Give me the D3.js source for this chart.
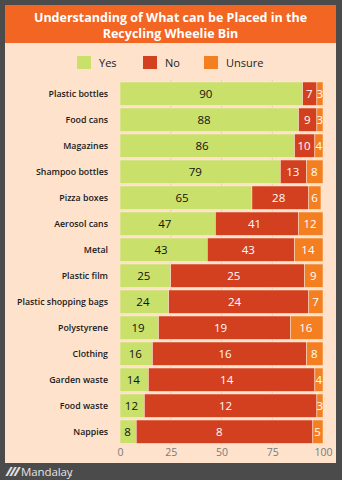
<!DOCTYPE html>
<html><head><meta charset="utf-8">
<script src="https://cdn.jsdelivr.net/npm/d3@7"></script>
<style>
html,body{margin:0;padding:0;background:#4b4b4b;}
svg{display:block;font-family:"Open Sans","Noto Sans",sans-serif;}
</style></head><body>
<svg id="chart" width="342" height="480"></svg>
<script>
// Survey: which items people believe go in the recycling wheelie bin (%)
const categories = ["Plastic bottles","Food cans","Magazines","Shampoo bottles","Pizza boxes","Aerosol cans","Metal","Plastic film","Plastic shopping bags","Polystyrene","Clothing","Garden waste","Food waste","Nappies"];
const yesValues    = [90, 88, 86, 79, 65, 47, 43, 25, 24, 19, 16, 14, 12, 8];
const noValues     = [7, 9, 10, 13, 28, 41, 43, 66, 69, 65, 76, 82, 85, 87];
const unsureValues = [3, 3, 4, 8, 6, 12, 14, 9, 7, 16, 8, 4, 3, 5];
// figures printed inside the "No" segments
const noLabels     = [7, 9, 10, 13, 28, 41, 43, 25, 24, 19, 16, 14, 12, 8];
const seriesNames  = ["Yes", "No", "Unsure"];
const seriesColors = ["#c9e06b", "#d2401f", "#f47f21"];
const xTicks       = [0, 25, 50, 75, 100];
const titleLines   = ["Understanding of What can be Placed in the", "Recycling Wheelie Bin"];

const W = 342, H = 480;
const svg = d3.select("#chart");

svg.append("rect").attr("width", W).attr("height", H).attr("fill", "#4b4b4b");
svg.append("rect").attr("x", 5).attr("y", 5).attr("width", 331).attr("height", 458).attr("fill", "#fee2cb");
svg.append("rect").attr("x", 5).attr("y", 5).attr("width", 331).attr("height", 38).attr("fill", "#f26522");

svg.append("g").selectAll("text").data(titleLines).join("text")
  .attr("x", 170.5).attr("y", (d, i) => 21.5 + i * 16)
  .attr("text-anchor", "middle").attr("fill", "#fff")
  .attr("font-size", 12.5).attr("font-weight", 700)
  .text(d => d);

// legend
const legendX = [77, 143, 204];
const legend = svg.append("g").selectAll("g").data(seriesNames).join("g")
  .attr("transform", (d, i) => `translate(${legendX[i]},56)`);
legend.append("rect").attr("width", 14).attr("height", 13).attr("fill", (d, i) => seriesColors[i]);
legend.append("text").attr("x", 22).attr("y", 10.5).attr("font-size", 11).attr("fill", "#222").text(d => d);

// scales
const x = d3.scaleLinear().domain([0, 100]).range([120, 323]);
const y = d3.scaleBand().domain(categories).range([80.7, 444.7]).paddingInner(0.1).paddingOuter(0.05);

// gridlines
svg.append("g").selectAll("line").data(xTicks.filter(t => t > 0 && t < 100)).join("line")
  .attr("x1", d => x(d)).attr("x2", d => x(d)).attr("y1", 80).attr("y2", 445)
  .attr("stroke", "#e8cbb1").attr("stroke-width", 1);

// stacked bars
const table = categories.map((c, i) => ({ category: c, Yes: yesValues[i], No: noValues[i], Unsure: unsureValues[i], noLabel: noLabels[i] }));
const stacked = d3.stack().keys(seriesNames)(table);

const layers = svg.append("g").selectAll("g").data(stacked).join("g")
  .attr("fill", (d, i) => seriesColors[i]);
layers.selectAll("rect").data(d => d).join("rect")
  .attr("x", d => x(d[0])).attr("width", d => x(d[1]) - x(d[0]))
  .attr("y", d => y(d.data.category)).attr("height", y.bandwidth())
  .attr("stroke", "#fde9d6").attr("stroke-width", 0.5);

// labels inside segments
const labelColors = ["#111", "#fff", "#fff"];
stacked.forEach((layer, li) => {
  svg.append("g").selectAll("text").data(layer).join("text")
    .attr("x", d => x(d[0]) + (x(d[1]) - x(d[0])) * 0.47)
    .attr("y", d => y(d.data.category) + y.bandwidth() / 2)
    .attr("dy", "0.36em").attr("text-anchor", "middle")
    .attr("font-size", 11.5).attr("font-weight", 500)
    .attr("fill", labelColors[li])
    .text(d => li === 1 ? d.data.noLabel : d.data[layer.key]);
});

// category labels
svg.append("g").selectAll("text").data(categories).join("text")
  .attr("x", 108).attr("y", d => y(d) + y.bandwidth() / 2)
  .attr("dy", "0.36em").attr("text-anchor", "end")
  .attr("font-size", 8.8).attr("font-weight", 600).attr("fill", "#1a1a1a")
  .text(d => d);

// x axis
const axis = svg.append("g").attr("transform", "translate(0,446)")
  .call(d3.axisBottom(x).tickValues(xTicks).tickSize(0).tickPadding(3));
axis.select(".domain").remove();
axis.selectAll("text").attr("font-size", 10.5).attr("fill", "#7a7a7a")
  .attr("font-family", "'Open Sans','Noto Sans',sans-serif");

// footer brand
const brand = svg.append("g").attr("fill", "#e4e4e4");
brand.append("text").attr("x", 6).attr("y", 476).attr("font-size", 12.5)
  .attr("font-weight", 800).attr("font-style", "italic").attr("letter-spacing", -1.8).text("///");
brand.append("text").attr("x", 21).attr("y", 476).attr("font-size", 11.5)
  .attr("font-weight", 400).attr("letter-spacing", -0.1).text("Mandalay");
brand.append("circle").attr("cx", 71).attr("cy", 475.3).attr("r", 0.8);
</script>
</body></html>
